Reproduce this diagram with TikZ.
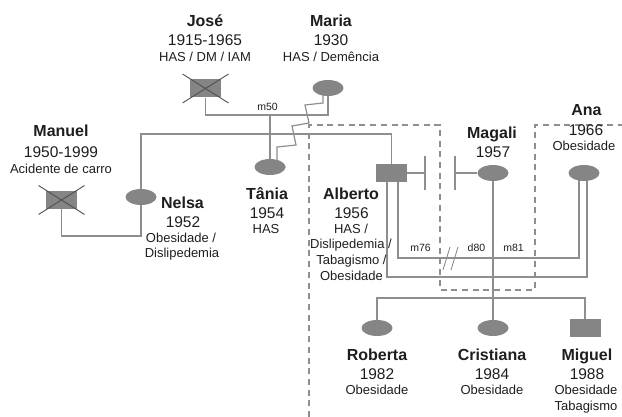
\documentclass[tikz,border=0pt]{standalone}
\usepackage{fontspec}
\setmainfont{Liberation Sans}
\usetikzlibrary{shapes.geometric,backgrounds}

\definecolor{lineGray}{HTML}{8E8E8E}
\definecolor{shapeGray}{HTML}{858585}
\definecolor{crossGray}{HTML}{505050}
\definecolor{txtGray}{HTML}{1E1E1E}

\tikzset{
  male/.style={rectangle,fill=shapeGray,minimum width=31pt,minimum height=18pt,inner sep=0pt},
  female/.style={ellipse,fill=shapeGray,minimum width=31pt,minimum height=16pt,inner sep=0pt},
  link/.style={draw=lineGray,line width=1.2pt},
  nm/.style={anchor=base,txtGray,font=\fontsize{16}{18}\selectfont\bfseries},
  yr/.style={anchor=base,txtGray,font=\fontsize{15.5}{18}\selectfont},
  nt/.style={anchor=base,txtGray,font=\fontsize{13}{15}\selectfont},
  ml/.style={anchor=base,txtGray,font=\fontsize{10.5}{12}\selectfont},
}

\begin{document}
\begin{tikzpicture}[x=1pt,y=-1pt]
\useasboundingbox (0,0) rectangle (622,417);

% persons
\node[male]   (jose)      at (205.5,88.5) {};
\node[female] (maria)     at (328,88) {};
\node[male]   (manuel)    at (61.5,200) {};
\node[female] (nelsa)     at (141,197) {};
\node[female] (tania)     at (270,167) {};
\node[male]   (alberto)   at (391.5,173) {};
\node[female] (magali)    at (493,173) {};
\node[female] (ana)       at (584,173) {};
\node[female] (roberta)   at (377,328) {};
\node[female] (cristiana) at (493,328) {};
\node[male]   (miguel)    at (585,328) {};

% deceased
\draw[crossGray,line width=0.9pt] (jose.center) +(-23,-14.5) -- +(23,14.5) +(-23,14.5) -- +(23,-14.5);
\draw[crossGray,line width=0.9pt] (manuel.center) +(-23,-14.5) -- +(23,14.5) +(-23,14.5) -- +(23,-14.5);

\begin{scope}[on background layer]
% Jose x Maria
\coordinate (m50) at (270,115);
\draw[link] (jose) |- (m50) -| (maria);
\draw[link] (m50) -- (tania);
\draw[link] ([xshift=-5pt]maria.center) -- (323,103) -- (305,105) -- (309,123)
  -- (292,126) -- (296,145) -- (277,147) |- (tania);
% Manuel x Nelsa
\coordinate (mN) at (100,236);
\draw[link] (manuel) |- (mN) -| (nelsa);
\coordinate (nA) at (141,134);
\draw[link] (nelsa) -- (nA) -| (alberto);
% Alberto x Magali
\coordinate (sepA) at (425,173);
\coordinate (sepM) at (455,173);
\draw[link] (alberto) -- (sepA) ++(0,-17) -- ++(0,34);
\draw[link] (magali) -- (sepM) ++(0,-17) -- ++(0,34);
% Alberto x Ana
\coordinate (lvA) at (480,258);
\coordinate (lvB) at (480,277);
\draw[link] ([xshift=6.5pt]alberto.center) |- (lvA) -| ([xshift=-5pt]ana.center);
\draw[link] ([xshift=-4.5pt]alberto.center) |- (lvB) -| ([xshift=3pt]ana.center);
% children
\coordinate (kids) at (493,298);
\draw[link] (magali) -- (cristiana);
\draw[link] (roberta) |- (kids) -| (miguel);
\draw[link,line width=0.9pt] (450,247) -- (443,270) (458,247) -- (451,270);
% household
\draw[lineGray,line width=1.2pt,dash pattern=on 6pt off 4.7pt]
  (309,417) -- (309,125) -- (440,125) -- (440,290) -- (535,290) -- (535,125) -- (622,125);
\end{scope}

% labels
\node[nm] (joseN) at (205,27) {José};
\node[yr] (joseY) at (205,45.5) {1915-1965};
\node[nt] (joseD) at (205,62) {HAS / DM / IAM};
\node[nm] (mariaN) at (331,27) {Maria};
\node[yr] (mariaY) at (331,45.5) {1930};
\node[nt] (mariaD) at (331,62) {HAS / Demência};
\node[nm] (manuelN) at (61,137) {Manuel};
\node[yr] (manuelY) at (61,158) {1950-1999};
\node[nt] (manuelD) at (61,174) {Acidente de carro};
\node[nm] (nelsaN) at (182.5,208.5) {Nelsa};
\node[yr] (nelsaY) at (183,227.5) {1952};
\node[nt] (nelsaD) at (181,243) {Obesidade /};
\node[nt] (nelsaE) at (182,257.5) {Dislipedemia};
\node[nm] (taniaN) at (267,199.5) {Tânia};
\node[yr] (taniaY) at (267,218.5) {1954};
\node[nt] (taniaD) at (266,233.5) {HAS};
\node[nm] (albertoN) at (351,199.5) {Alberto};
\node[yr] (albertoY) at (351.5,218.5) {1956};
\node[nt] (albertoD) at (351,233.5) {HAS /};
\node[nt] (albertoE) at (351,249) {Dislipedemia /};
\node[nt] (albertoF) at (351.5,264.5) {Tabagismo /};
\node[nt] (albertoG) at (351.5,280.5) {Obesidade};
\node[nm] (magaliN) at (492,138.5) {Magali};
\node[yr] (magaliY) at (493,157.5) {1957};
\node[nm] (anaN) at (586.5,116) {Ana};
\node[yr] (anaY) at (586,135.5) {1966};
\node[nt] (anaD) at (584,150.5) {Obesidade};
\node[nm] (robertaN) at (377,360) {Roberta};
\node[yr] (robertaY) at (377,379) {1982};
\node[nt] (robertaD) at (377,394.5) {Obesidade};
\node[nm] (cristianaN) at (492,360) {Cristiana};
\node[yr] (cristianaY) at (492,379) {1984};
\node[nt] (cristianaD) at (492,394.5) {Obesidade};
\node[nm] (miguelN) at (587,360) {Miguel};
\node[yr] (miguelY) at (587,379) {1988};
\node[nt] (miguelD) at (586,394.5) {Obesidade};
\node[nt] (miguelE) at (586,410) {Tabagismo};
\node[ml] (lbM50) at (267.5,110.5) {m50};
\node[ml] (lbM76) at (420.5,251.5) {m76};
\node[ml] (lbD80) at (476.5,251.5) {d80};
\node[ml] (lbM81) at (513.5,251.5) {m81};
\end{tikzpicture}
\end{document}
